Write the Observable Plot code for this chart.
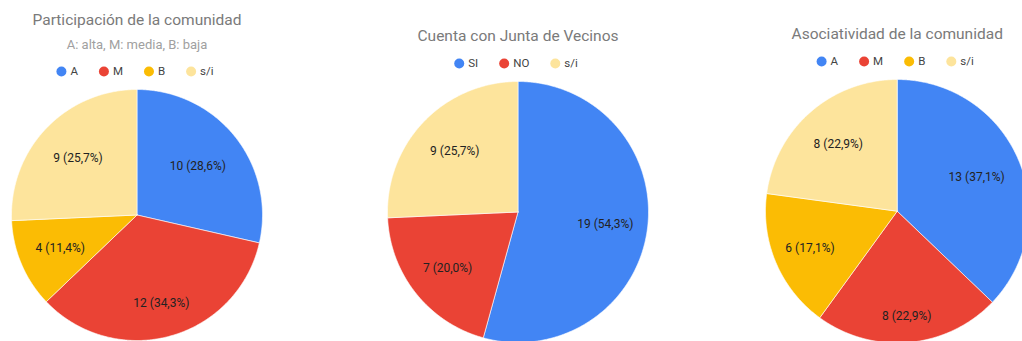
<!DOCTYPE html>
<html>
<head>
<meta charset="utf-8">
<script src="https://cdn.jsdelivr.net/npm/d3@7"></script>
<script src="https://cdn.jsdelivr.net/npm/@observablehq/plot@0.6"></script>
<style>
  html, body { margin: 0; padding: 0; background: #fff; }
  #chart { width: 1022px; height: 341px; overflow: hidden; }
</style>
</head>
<body>
<div id="chart"></div>
<script>
// ---- data ----
const titles = ["Participación de la comunidad", "Cuenta con Junta de Vecinos", "Asociatividad de la comunidad"];
const subtitles = ["A: alta, M: media, B: baja", "", ""];
const cats1 = ["A", "M", "B", "s/i"];
const vals1 = [10, 12, 4, 9];
const cats2 = ["SI", "NO", "s/i"];
const vals2 = [19, 7, 9];
const cats3 = ["A", "M", "B", "s/i"];
const vals3 = [13, 8, 6, 8];

const colorDomain = ["A", "M", "B", "s/i", "SI", "NO"];
const colorRange = ["#4285f4", "#ea4335", "#fbbc04", "#fde49c", "#4285f4", "#ea4335"];

// ---- layout (not data) ----
const W = 1022, H = 341;
const layout = [
  {cx: 136.5, cy: 214.5, r: 125.5, titleY: 20, subY: 44, legY: 71, labelR: [0.62, 0.73, 0.665, 0.65]},
  {cx: 517.5, cy: 211.5, r: 130.5, titleY: 36, subY: 0, legY: 63, labelR: [0.675, 0.69, 0.67]},
  {cx: 896.7, cy: 210.7, r: 131.7, titleY: 34, subY: 0, legY: 61, labelR: [0.656, 0.8, 0.72, 0.68]}
];
const FONT = "Roboto, 'Liberation Sans', Arial, sans-serif";
const legendFontSize = 11.5;

const charts = [
  {cats: cats1, vals: vals1},
  {cats: cats2, vals: vals2},
  {cats: cats3, vals: vals3}
];

const polys = [];
const labels = [];
const legendDots = [];
const legendTexts = [];
const titleRows = [];

const ctx = document.createElement("canvas").getContext("2d");
ctx.font = `${legendFontSize}px ${FONT}`;

charts.forEach((c, ci) => {
  const L = layout[ci];
  const total = d3.sum(c.vals);
  let acc = 0;
  c.cats.forEach((cat, i) => {
    const a0 = acc / total * 2 * Math.PI;
    acc += c.vals[i];
    const a1 = acc / total * 2 * Math.PI;
    const key = ci + "-" + cat;
    const n = Math.max(2, Math.ceil((a1 - a0) / (Math.PI / 360)));
    polys.push({key, cat, x: L.cx, y: L.cy});
    for (let k = 0; k <= n; k++) {
      const a = a0 + (a1 - a0) * k / n;
      polys.push({key, cat, x: L.cx + L.r * Math.sin(a), y: L.cy - L.r * Math.cos(a)});
    }
    polys.push({key, cat, x: L.cx, y: L.cy});
    const am = (a0 + a1) / 2;
    const lr = L.labelR[i] * L.r;
    const pct = (c.vals[i] / total * 100).toFixed(1).replace(".", ",");
    labels.push({
      x: L.cx + lr * Math.sin(am),
      y: L.cy - lr * Math.cos(am),
      text: `${c.vals[i]} (${pct}%)`
    });
  });
  // legend, centred on the pie
  const gap = 13, space = 22;
  const widths = c.cats.map(t => ctx.measureText(t).width);
  const totalW = d3.sum(widths) + c.cats.length * gap + (c.cats.length - 1) * space + 5;
  let x = L.cx - totalW / 2 + 5;
  c.cats.forEach((cat, i) => {
    legendDots.push({x, y: L.legY, cat});
    legendTexts.push({x: x + gap - 4, y: L.legY, text: cat});
    x += gap + widths[i] + space;
  });
  titleRows.push({x: L.cx, y: L.titleY, text: titles[ci]});
  if (subtitles[ci]) titleRows.push({x: L.cx, y: L.subY, text: subtitles[ci], sub: true});
});

const plot = Plot.plot({
  width: W,
  height: H,
  margin: 0,
  x: {type: "linear", domain: [0, W], range: [0, W], axis: null},
  y: {type: "linear", domain: [0, H], range: [0, H], axis: null},
  color: {type: "ordinal", domain: colorDomain, range: colorRange},
  style: {fontFamily: FONT, background: "#fff"},
  marks: [
    Plot.line(polys, {x: "x", y: "y", z: "key", fill: "cat", stroke: "#fff", strokeWidth: 0.6, curve: "linear"}),
    Plot.text(labels, {x: "x", y: "y", text: "text", fontSize: 12, fill: "#222"}),
    Plot.text(titleRows.filter(d => !d.sub), {x: "x", y: "y", text: "text", fontSize: 15.5, fill: "#7a7a7a"}),
    Plot.text(titleRows.filter(d => d.sub), {x: "x", y: "y", text: "text", fontSize: 13, fill: "#a0a0a0"}),
    Plot.dot(legendDots, {x: "x", y: "y", r: 5, fill: "cat", stroke: null}),
    Plot.text(legendTexts, {x: "x", y: "y", text: "text", textAnchor: "start", fontSize: legendFontSize, fill: "#444"})
  ]
});
document.getElementById("chart").appendChild(plot);
</script>
</body>
</html>
